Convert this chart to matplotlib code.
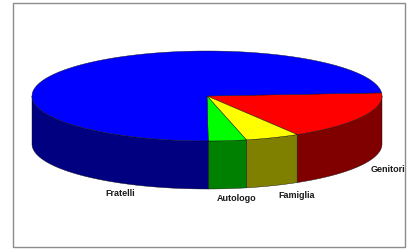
import numpy as np
import matplotlib
matplotlib.use("Agg")
import matplotlib.pyplot as plt
from matplotlib.patches import Polygon, Rectangle

# ── Data ──────────────────────────────────────────────────────────────────────
labels = ["Genitori", "Famiglia", "Autologo", "Fratelli"]
values = [17.5, 5.0, 3.5, 74.0]
top_colors = ["#FF0000", "#FFFF00", "#00FF00", "#0000FF"]
side_colors = ["#800000", "#808000", "#008000", "#000080"]

# label anchors in pixel space (layout only)
label_pos = [(388, 169), (297, 196), (237, 199), (120, 194)]

# ── Geometry (pixels, y down) ─────────────────────────────────────────────────
W, H = 408, 253
CX, CY = 207, 97
RX, RY = 175, 45
DEPTH = 48
START = 4.0  # degrees, slices run clockwise


def arc(a_from, a_to, n=120, dy=0.0):
    t = np.radians(np.linspace(a_from, a_to, n))
    return np.column_stack([CX + RX * np.cos(t), CY - RY * np.sin(t) + dy])


fig = plt.figure(figsize=(W / 100, H / 100), dpi=100)
ax = fig.add_axes([0, 0, 1, 1])
ax.set_xlim(0, W)
ax.set_ylim(H, 0)
ax.axis("off")

ax.add_patch(Rectangle((13, 4), 392, 244, fill=False, edgecolor="#8C8C8C", lw=1.0))

spans = np.array(values) / sum(values) * 360.0
bounds = START - np.concatenate([[0], np.cumsum(spans)])

# side walls (front half only)
for i in range(len(values)):
    hi, lo = bounds[i], bounds[i + 1]
    for k in range(-2, 3):
        a_lo = max(lo, -180 + 360 * k)
        a_hi = min(hi, 360 * k)
        if a_lo < a_hi:
            top = arc(a_hi, a_lo)
            bot = arc(a_lo, a_hi, dy=DEPTH)
            ax.add_patch(Polygon(np.vstack([top, bot]), closed=True,
                                 facecolor=side_colors[i], edgecolor="#101010",
                                 lw=0.3, zorder=2))

# top faces
for i in range(len(values)):
    pts = np.vstack([[CX, CY], arc(bounds[i], bounds[i + 1])])
    ax.add_patch(Polygon(pts, closed=True, facecolor=top_colors[i],
                         edgecolor="#101010", lw=0.3, zorder=3))

for lab, (x, y) in zip(labels, label_pos):
    ax.text(x, y, lab, ha="center", va="center", fontsize=6.5,
            family="Liberation Sans", weight="bold", color="#1A1A1A", zorder=4)

fig.savefig("out.png", dpi=100, facecolor="white")
